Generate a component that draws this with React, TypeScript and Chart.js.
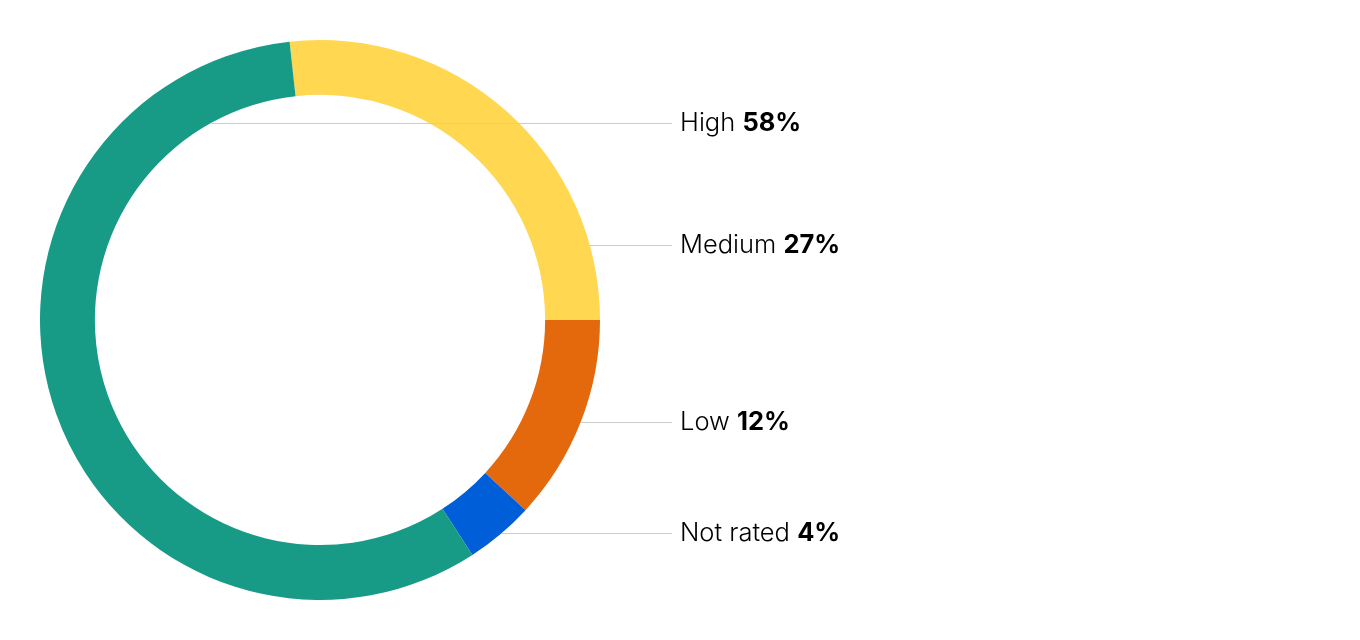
import React, { useEffect, useRef } from "react";
import { Chart, registerables } from "chart.js";

Chart.register(...registerables);

// Data (drawing order, clockwise)
const categories = ["Medium", "Low", "Not rated", "High"];
const shares = [27, 12, 4, 58];
const colors = ["#FFD751", "#E4690C", "#005ED8", "#189B86"];

// Annotation layout (label rows, top to bottom)
const labelRows = [
  { cat: "High", y: 123, edge: "inner", side: -1 },
  { cat: "Medium", y: 245, edge: "outer", side: 1 },
  { cat: "Low", y: 422, edge: "outer", side: 1 },
  { cat: "Not rated", y: 533, edge: "outer", side: 1 },
];

export default function App() {
  const ref = useRef<HTMLCanvasElement>(null);

  useEffect(() => {
    document.body.style.margin = "0";
    const canvas = ref.current;
    if (!canvas) return;
    const total = shares.reduce((a, b) => a + b, 0);
    const rotation = 90 - (shares[0] / total) * 360;

    const leaderPlugin = {
      id: "leaders",
      afterDraw(chart: any) {
        const ctx = chart.ctx as CanvasRenderingContext2D;
        const meta = chart.getDatasetMeta(0);
        const arc = meta.data[0] as any;
        const cx = arc.x;
        const cy = arc.y;
        const outer = arc.outerRadius;
        const inner = arc.innerRadius;
        const lineEnd = 672;
        const textX = 680;
        ctx.save();
        labelRows.forEach((row) => {
          const idx = categories.indexOf(row.cat);
          const r = row.edge === "inner" ? inner : outer;
          const dy = row.y - cy;
          const dx = Math.sqrt(Math.max(0, r * r - dy * dy));
          const startX = cx + row.side * dx;
          ctx.beginPath();
          ctx.strokeStyle = "#cccccc";
          ctx.lineWidth = 1;
          ctx.moveTo(startX, row.y + 0.5);
          ctx.lineTo(lineEnd, row.y + 0.5);
          ctx.stroke();

          ctx.fillStyle = "#000000";
          ctx.textBaseline = "middle";
          ctx.textAlign = "left";
          ctx.font = "300 25.5px Inter";
          const lbl = row.cat + " ";
          ctx.fillText(lbl, textX, row.y);
          const w = ctx.measureText(lbl).width;
          ctx.font = "700 25.5px Inter";
          ctx.fillText(shares[idx] + "%", textX + w, row.y);
        });
        ctx.restore();
      },
    };

    const chart = new Chart(canvas, {
      type: "doughnut",
      data: {
        labels: categories,
        datasets: [
          {
            data: shares,
            backgroundColor: colors,
            borderWidth: 0,
          },
        ],
      },
      options: {
        responsive: false,
        animation: false,
        rotation,
        cutout: "80.4%",
        layout: { padding: { left: 40, top: 40, bottom: 40, right: 760 } },
        plugins: {
          legend: { display: false },
          tooltip: { enabled: false },
        },
      },
      plugins: [leaderPlugin],
    });
    return () => chart.destroy();
  }, []);

  return (
    <div style={{ position: "absolute", left: 0, top: 0, width: 1360, height: 640, background: "#fff" }}>
      <canvas ref={ref} width={1360} height={640} />
    </div>
  );
}
